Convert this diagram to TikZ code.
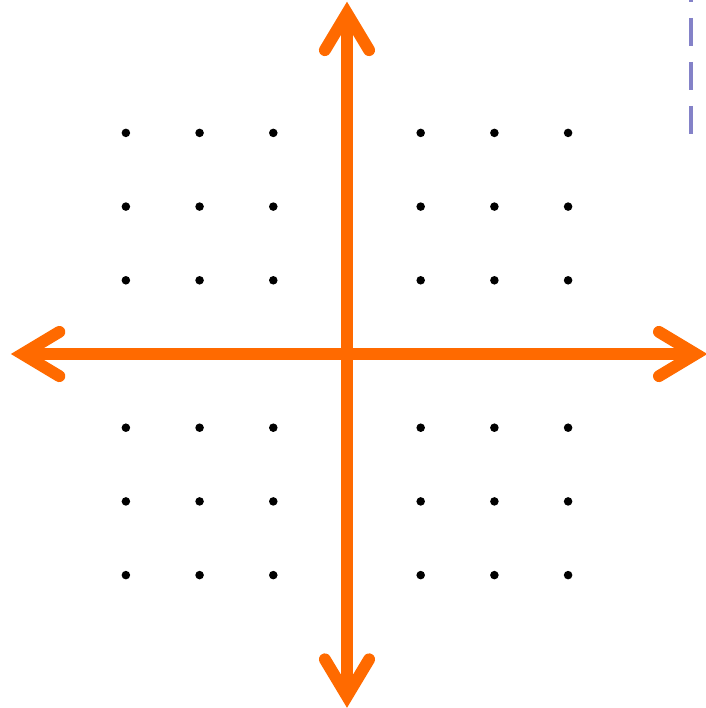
\documentclass[tikz,border=0pt]{standalone}
\usepackage{xcolor}
\usepackage{tikz}
\usetikzlibrary{arrows.meta}
\definecolor{axiscol}{RGB}{255,106,0}
\definecolor{dashcol}{RGB}{132,130,200}
\definecolor{dotcol}{RGB}{0,0,0}

\begin{document}
\begin{tikzpicture}[
  axis/.style={{Straight Barb[length=5.0mm, width=6.0mm, line cap=round, line join=miter]}-{Straight Barb[length=5.0mm, width=6.0mm, line cap=round, line join=miter]},
               line width=4.6pt, draw=axiscol},
  gridpt/.style={fill=dotcol},
  edge/.style={draw=dashcol, line width=1.2pt, dash pattern=on 3.8mm off 2.17mm, dash phase=3.53mm},
]
\useasboundingbox (-4.708,-4.803) rectangle (4.858,4.803);

% ---------- axis end points ----------
\coordinate (west)  at (-4.56,0);
\coordinate (east)  at (4.89,0);
\coordinate (north) at (0,4.78);
\coordinate (south) at (0,-4.80);

% ---------- the dot lattice ----------
\foreach \i in {-3,-2,-1,1,2,3}
  \foreach \j in {-3,-2,-1,1,2,3}
    \fill[gridpt] (\i,\j) circle (0.058);

% ---------- the two axes ----------
\draw[axis] (west) -- (east);
\draw[axis] (south) -- (north);

% ---------- dashed edge, top right ----------
\coordinate (dtop) at (4.668,4.803);
\coordinate (dbot) at (4.668,2.97);
\draw[edge] (dtop) -- (dbot);

\end{tikzpicture}
\end{document}
